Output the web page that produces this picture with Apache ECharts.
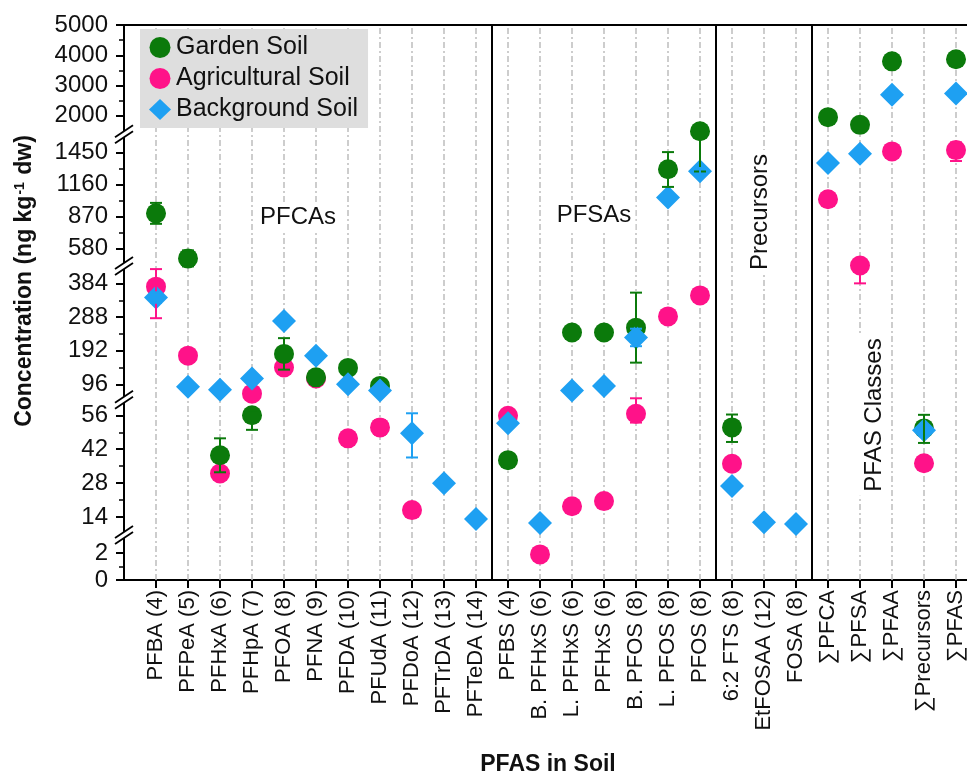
<!DOCTYPE html>
<html><head><meta charset="utf-8">
<script src="https://cdn.jsdelivr.net/npm/echarts@6/dist/echarts.min.js"></script>
<style>html,body{margin:0;padding:0;background:#fff}#c{width:967px;height:777px}</style>
</head><body><div id="c"></div>
<script>
const categories = ['PFBA (4)','PFPeA (5)','PFHxA (6)','PFHpA (7)','PFOA (8)','PFNA (9)','PFDA (10)','PFUdA (11)','PFDoA (12)','PFTrDA (13)','PFTeDA (14)',
  'PFBS (4)','B. PFHxS (6)','L. PFHxS (6)','PFHxS (6)','B. PFOS (8)','L. PFOS (8)','PFOS (8)',
  '6:2 FTS (8)','EtFOSAA (12)','FOSA (8)',
  '\u2211PFCA','\u2211PFSA','\u2211PFAA','\u2211Precursors','\u2211PFAS'];
const gardenSoil =       [900, 525, 39.5, 56, 183, 116, 143, 94, null, null, null, 37.5, null, 244, 244, 258, 1300, 1770, 51, null, null, 1980, 1866, 3800, 50.6, 3870];
// error bars: a number = symmetric, [down, up] = asymmetric
const gardenErr =        [95, 45, 7, 6, 45, null, null, null, null, null, null, null, null, null, null, 100, 160, [490, 0], 6, null, null, null, null, null, 6, null];
const agriculturalSoil = [375, 178, 32, 84, 144, 113, 46.5, 51, 16.9, null, null, 55.8, 1.9, 18.5, 20.6, 58, 290, 350, 36, null, null, 1028, 485, 1470, 36.2, 1490];
const agriculturalErr =  [90, null, null, null, null, null, null, 3, null, null, null, null, null, null, null, [5, 20], null, null, null, null, null, null, [100, 0], null, null, 115];
const backgroundSoil =   [344, 93, 89, 113, 277, 178, 96, 88, 48.6, 28, 13.4, 52.7, 12, 88, 94, 230, 1045, 1282, 26.8, 12.3, 11.7, 1356, 1440, 2700, 49.8, 2740];
const backgroundErr =    [15, null, null, null, null, null, null, null, 10, null, null, null, null, null, null, 25, null, 30, null, null, null, null, null, null, null, null];
const yTickLabels = [0, 2, 14, 28, 42, 56, 96, 192, 288, 384, 580, 870, 1160, 1450, 2000, 3000, 4000, 5000];
const yMinorTicks = [1, 21, 35, 49, 144, 240, 336, 725, 1015, 1305, 2500, 3500, 4500];
const groupSeparators = [10.5, 17.5, 20.5];
const axisBreaks = [[2, 14], [56, 96], [384, 580], [1450, 2000]];

// broken (segmented) y scale: [real value, axis position]
const AXIS_SEGMENTS = [[0,0],[2,27],[14,63],[56,165],[96,196],[384,297],[580,332],[1450,428],[2000,465],[5000,556]];
const AXIS_MAX = 556;
function toAxis(v){
  for (let i = 1; i < AXIS_SEGMENTS.length; i++) {
    const [v0,a0] = AXIS_SEGMENTS[i-1], [v1,a1] = AXIS_SEGMENTS[i];
    if (v <= v1 || i === AXIS_SEGMENTS.length-1) return a0 + (v-v0)*(a1-a0)/(v1-v0);
  }
}
const FONT = "'Liberation Sans', Arial, sans-serif";
const C_G = '#0b7a0b', C_A = '#ff1289', C_B = '#1ea0f2';

function pts(vals){ return vals.map((v,i)=> v==null ? null : [i, toAxis(v)]).filter(Boolean); }
function errs(vals, e){
  const out = [];
  vals.forEach((v,i)=>{
    if (v==null || e[i]==null) return;
    const [dn, up] = Array.isArray(e[i]) ? e[i] : [e[i], e[i]];
    out.push([i, toAxis(Math.max(0, v-dn)), toAxis(v+up), toAxis(v), dn>0?1:0, up>0?1:0]);
  });
  return out;
}
function errRender(color){
  return function(params, api){
    const x = api.value(0);
    const lo = api.coord([x, api.value(1)]), hi = api.coord([x, api.value(2)]);
    const w = 6, style = {stroke: color, lineWidth: 2};
    const ch = [{type:'line', shape:{x1:lo[0],y1:lo[1],x2:hi[0],y2:hi[1]}, style}];
    if (api.value(4)) ch.push({type:'line', shape:{x1:lo[0]-w,y1:lo[1],x2:lo[0]+w,y2:lo[1]}, style});
    if (api.value(5)) ch.push({type:'line', shape:{x1:hi[0]-w,y1:hi[1],x2:hi[0]+w,y2:hi[1]}, style});
    return {type:'group', children:ch};
  };
}
function breakRender(params, api){
  const p = api.coord([api.value(0), api.value(1)]);
  const dx = 9, dy = 6, s = 3;
  const ls = {stroke:'#000', lineWidth:1.8};
  return {type:'group', children:[
    {type:'polygon', shape:{points:[[p[0]-dx,p[1]+dy-s],[p[0]+dx,p[1]-dy-s],[p[0]+dx,p[1]-dy+s],[p[0]-dx,p[1]+dy+s]]}, style:{fill:'#fff'}},
    {type:'line', shape:{x1:p[0]-dx,y1:p[1]+dy-s,x2:p[0]+dx,y2:p[1]-dy-s}, style:ls},
    {type:'line', shape:{x1:p[0]-dx,y1:p[1]+dy+s,x2:p[0]+dx,y2:p[1]-dy+s}, style:ls}
  ]};
}

const chart = echarts.init(document.getElementById('c'), null, {renderer:'canvas'});
const catIdx = categories.map((_,i)=>i);
chart.setOption({
  animation: false,
  backgroundColor: '#fff',
  textStyle: {fontFamily: FONT},
  grid: {left:124, right:-21, top:25, bottom:197, containLabel:false, outerBoundsMode:'none',
         show:true, borderColor:'#000', borderWidth:2, backgroundColor:'transparent'},
  legend: {
    orient:'vertical', left:140, top:29, backgroundColor:'#dedede', borderRadius:0,
    padding:[6,10,6,9], itemGap:6, itemWidth:22, itemHeight:21, itemTextGap:16,
    textStyle:{fontSize:25, color:'#111', fontFamily:FONT},
    data:[{name:'Garden Soil', icon:'circle'},{name:'Agricultural Soil', icon:'circle'},{name:'Background Soil', icon:'diamond'}]
  },
  xAxis: {
    type:'value', min:-1, max:26,
    axisLine:{show:true, onZero:false, lineStyle:{color:'#000', width:2}},
    axisTick:{show:true, customValues:catIdx, length:8, lineStyle:{color:'#000', width:2}},
    axisLabel:{customValues:catIdx, formatter:v=>categories[Math.round(v)], rotate:90, fontSize:22, margin:10, color:'#111', fontFamily:FONT},
    splitLine:{show:false}
  },
  yAxis: [{
    type:'value', min:0, max:AXIS_MAX, position:'left',
    axisLine:{show:true, onZero:false, lineStyle:{color:'#000', width:2}},
    axisTick:{show:true, customValues:yTickLabels.map(toAxis), length:8, lineStyle:{color:'#000', width:2}},
    axisLabel:{customValues:yTickLabels.map(toAxis), fontSize:24, margin:16, color:'#111', fontFamily:FONT,
      formatter:v=>{ const t = yTickLabels.find(t=>Math.abs(toAxis(t)-v)<0.5); return t==null?'':String(t); }},
    splitLine:{show:false}
  },{
    type:'value', min:0, max:AXIS_MAX, position:'left', offset:0,
    axisLine:{show:false, onZero:false}, axisLabel:{show:false}, splitLine:{show:false},
    axisTick:{show:true, customValues:yMinorTicks.map(toAxis), length:5, lineStyle:{color:'#000', width:1.5}}
  }],
  graphic: [
    {type:'text', x:25, y:281, rotation:Math.PI/2, z:100,
     style:{text:'Concentration (ng kg{sup|-1} dw)', fontSize:23, fontWeight:'bold', fontFamily:FONT, fill:'#111',
            align:'center', verticalAlign:'middle', rich:{sup:{fontSize:14, fontWeight:'bold', fontFamily:FONT, verticalAlign:'top', padding:[0,1,10,1]}}}},
    {type:'text', x:548, y:765, z:100,
     style:{text:'PFAS in Soil', fontSize:23, fontWeight:'bold', fontFamily:FONT, fill:'#111', align:'center', verticalAlign:'middle'}},
    {type:'text', x:298, y:217, z:100,
     style:{text:'PFCAs', fontSize:24, fontFamily:FONT, fill:'#111', align:'center', verticalAlign:'middle', backgroundColor:'#fff', padding:[3,4]}},
    {type:'text', x:594, y:215, z:100,
     style:{text:'PFSAs', fontSize:24, fontFamily:FONT, fill:'#111', align:'center', verticalAlign:'middle', backgroundColor:'#fff', padding:[3,4]}},
    {type:'text', x:760, y:212, rotation:Math.PI/2, z:100,
     style:{text:'Precursors', fontSize:24, fontFamily:FONT, fill:'#111', align:'center', verticalAlign:'middle', backgroundColor:'#fff', padding:[3,4]}},
    {type:'text', x:874, y:415, rotation:Math.PI/2, z:100,
     style:{text:'PFAS Classes', fontSize:24, fontFamily:FONT, fill:'#111', align:'center', verticalAlign:'middle', backgroundColor:'#fff', padding:[3,4]}}
  ],
  series: [
    {name:'gridlines', type:'scatter', data:[], z:1, silent:true,
     markLine:{silent:true, z:1, symbol:['none','none'], label:{show:false}, animation:false,
       lineStyle:{color:'#bdbdbd', type:[6,3,2,3], width:1.5}, data:catIdx.map(i=>({xAxis:i}))}},
    {name:'separators', type:'scatter', data:[], z:1, silent:true,
     markLine:{silent:true, z:1, symbol:['none','none'], label:{show:false}, animation:false,
       lineStyle:{color:'#000', type:'solid', width:2}, data:groupSeparators.map(x=>({xAxis:x}))}},
    {name:'Agricultural Soil', type:'scatter', symbol:'circle', symbolSize:20, itemStyle:{color:C_A, opacity:1}, data:pts(agriculturalSoil), z:2},
    {name:'Garden Soil', type:'scatter', symbol:'circle', symbolSize:20, itemStyle:{color:C_G, opacity:1}, data:pts(gardenSoil), z:2},
    {name:'Background Soil', type:'scatter', symbol:'diamond', symbolSize:24, itemStyle:{color:C_B, opacity:1}, data:pts(backgroundSoil), z:2},
    {name:'errG', type:'custom', renderItem:errRender(C_G), data:errs(gardenSoil, gardenErr), encode:{x:0, y:[1,2]}, z:3, silent:true},
    {name:'errA', type:'custom', renderItem:errRender(C_A), data:errs(agriculturalSoil, agriculturalErr), encode:{x:0, y:[1,2]}, z:3, silent:true},
    {name:'errB', type:'custom', renderItem:errRender(C_B), data:errs(backgroundSoil, backgroundErr), encode:{x:0, y:[1,2]}, z:3, silent:true},
    {name:'breaks', type:'custom', renderItem:breakRender, clip:false, silent:true, z:5,
     data:axisBreaks.map(([a,b])=>[-1, (toAxis(a)+toAxis(b))/2]), encode:{x:0, y:1}}
  ]
});
</script>
</body></html>
